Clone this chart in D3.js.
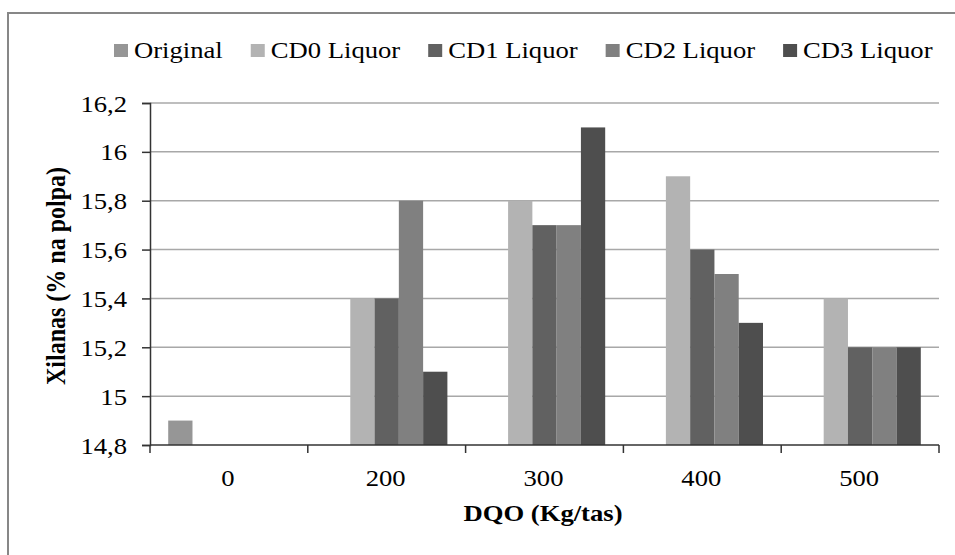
<!DOCTYPE html>
<html>
<head>
<meta charset="utf-8">
<script src="https://cdn.jsdelivr.net/npm/d3@7"></script>
<style>
  body { margin: 0; background: #fff; }
  text { font-family: "Liberation Serif", "Times New Roman", serif; fill: #000; }
</style>
</head>
<body>
<script>
// data
var categories = ["0", "200", "300", "400", "500"];
var seriesNames = ["Original", "CD0 Liquor", "CD1 Liquor", "CD2 Liquor", "CD3 Liquor"];
var original = [14.9, null, null, null, null];
var cd0 = [null, 15.4, 15.8, 15.9, 15.4];
var cd1 = [null, 15.4, 15.7, 15.6, 15.2];
var cd2 = [null, 15.8, 15.7, 15.5, 15.2];
var cd3 = [null, 15.1, 16.1, 15.3, 15.2];
var yTicks = [14.8, 15, 15.2, 15.4, 15.6, 15.8, 16, 16.2];

var colors = ["#969696", "#b3b3b3", "#616161", "#808080", "#4e4e4e"];
var allSeries = [original, cd0, cd1, cd2, cd3];

var width = 955, height = 555;
var SX = 1.11; // the source picture is a little wider than tall
var plotLeft = 150, plotRight = 939, plotTop = 103, plotBottom = 445;

var svg = d3.select("body").append("svg")
  .attr("width", width)
  .attr("height", height);

svg.append("rect").attr("width", width).attr("height", height).attr("fill", "#fff");

// outer frame, runs off the right and bottom
svg.append("rect")
  .attr("x", 8).attr("y", 13)
  .attr("width", 1000).attr("height", 600)
  .attr("fill", "none")
  .attr("stroke", "#878787")
  .attr("stroke-width", 2);

var x0 = d3.scaleBand().domain(categories).range([plotLeft, plotRight]).padding(0);
var x1 = d3.scaleBand().domain(seriesNames).range([0, x0.bandwidth()]).paddingInner(0).paddingOuter(0.75);
var y = d3.scaleLinear().domain([14.8, 16.2]).range([plotBottom, plotTop]);

var locale = d3.formatLocale({ decimal: ",", thousands: ".", grouping: [3], currency: ["", ""] });
var fmt = locale.format(".1~f");

// gridlines
svg.append("g").selectAll("line")
  .data(yTicks.slice(1))
  .enter().append("line")
  .attr("x1", plotLeft).attr("x2", plotRight)
  .attr("y1", function(d){ return y(d); })
  .attr("y2", function(d){ return y(d); })
  .attr("stroke", "#a8a8a8")
  .attr("stroke-width", 1.5);

// bars
var rows = [];
allSeries.forEach(function(vals, si){
  vals.forEach(function(v, ci){
    if (v != null) rows.push({ s: seriesNames[si], c: categories[ci], v: v, color: colors[si] });
  });
});

svg.append("g").selectAll("rect")
  .data(rows)
  .enter().append("rect")
  .attr("x", function(d){ return x0(d.c) + x1(d.s); })
  .attr("width", x1.bandwidth())
  .attr("y", function(d){ return y(d.v); })
  .attr("height", function(d){ return y(14.8) - y(d.v); })
  .attr("fill", function(d){ return d.color; });

// y axis
var yAxis = svg.append("g")
  .attr("transform", "translate(" + plotLeft + ",0)")
  .call(d3.axisLeft(y).tickValues(yTicks).tickSize(8).tickFormat(fmt));
yAxis.select(".domain").attr("stroke", "#333").attr("stroke-width", 1.5);
yAxis.selectAll(".tick line").attr("stroke", "#333").attr("stroke-width", 1.5);
yAxis.selectAll(".tick text")
  .attr("x", 0)
  .attr("dy", null)
  .attr("transform", "translate(-23,8) scale(" + SX + ",1)")
  .style("font-size", "24px")
  .style("font-family", "Liberation Serif, serif")
  .attr("fill", "#000");

// x axis line and boundary ticks
var xAxis = svg.append("g")
  .attr("transform", "translate(0," + plotBottom + ")");
xAxis.append("line")
  .attr("x1", plotLeft).attr("x2", plotRight)
  .attr("stroke", "#333").attr("stroke-width", 1.5);
xAxis.selectAll(".bt")
  .data(categories.concat(["end"]))
  .enter().append("line")
  .attr("class", "bt")
  .attr("x1", function(d, i){ return plotLeft + i * x0.step(); })
  .attr("x2", function(d, i){ return plotLeft + i * x0.step(); })
  .attr("y1", 0).attr("y2", 8)
  .attr("stroke", "#333").attr("stroke-width", 1.5);
xAxis.selectAll(".lab")
  .data(categories)
  .enter().append("text")
  .attr("class", "lab")
  .attr("text-anchor", "middle")
  .attr("transform", function(d){ return "translate(" + (x0(d) + x0.bandwidth() / 2 - 1) + ",41) scale(" + SX + ",1)"; })
  .style("font-size", "24px")
  .text(function(d){ return d; });

// axis titles
svg.append("text")
  .attr("text-anchor", "middle")
  .attr("transform", "translate(543,521) scale(" + SX + ",1)")
  .style("font-size", "24px")
  .style("font-weight", "bold")
  .text("DQO (Kg/tas)");

svg.append("text")
  .attr("text-anchor", "middle")
  .attr("transform", "translate(65,276) scale(" + SX + ",1) rotate(-90)")
  .style("font-size", "24px")
  .style("font-weight", "bold")
  .text("Xilanas (% na polpa)");

// legend
var legend = svg.append("g");
var lx = 114;
seriesNames.forEach(function(name, i){
  legend.append("rect")
    .attr("x", lx).attr("y", 44)
    .attr("width", 14).attr("height", 13)
    .attr("fill", colors[i]);
  var t = legend.append("text")
    .attr("transform", "translate(" + (lx + 20) + ",58) scale(" + SX + ",1)")
    .style("font-size", "24px")
    .text(name);
  var w = t.node().getComputedTextLength() * SX;
  lx += 20 + w + 28;
});
</script>
</body>
</html>
